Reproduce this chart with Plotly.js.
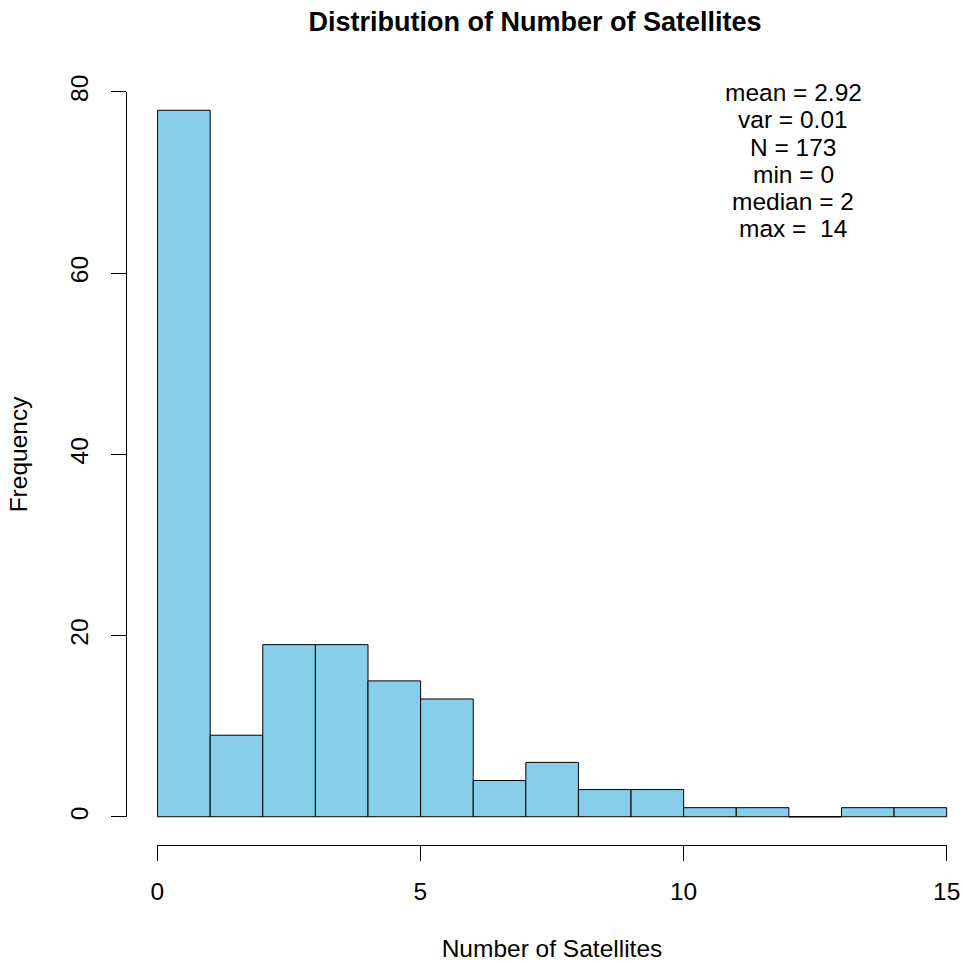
<!DOCTYPE html>
<html>
<head>
<meta charset="utf-8">
<script src="https://cdn.plot.ly/plotly-3.0.1.min.js"></script>
<style>html,body{margin:0;padding:0;background:#fff;}</style>
</head>
<body>
<div id="chart" style="width:963px;height:962px;"></div>
<script>
// ---- data ----
const breaks = [0,1,2,3,4,5,6,7,8,9,10,11,12,13,14,15];
const counts = [78,9,19,19,15,13,4,6,3,3,1,1,0,1,1];
const xTicks = [0,5,10,15];
const yTicks = [0,20,40,60,80];
const statLines = ["mean = 2.92","var = 0.01","N = 173","min = 0","median = 2","max =  14"];
const chartTitle = "Distribution of Number of Satellites";
const xTitle = "Number of Satellites";
const yTitle = "Frequency";

const FONT = "Liberation Sans, Arial, Helvetica, sans-serif";
const FS = 24.5;

const mids = counts.map((c, i) => (breaks[i] + breaks[i + 1]) / 2);
const widths = counts.map((c, i) => breaks[i + 1] - breaks[i]);

// flat outline for empty bins (R draws a zero-height rectangle)
const zx = [], zy = [];
counts.forEach((c, i) => {
  if (c === 0) { zx.push(breaks[i], breaks[i + 1], null); zy.push(0, 0, null); }
});

const traces = [
  {
    type: 'bar', x: mids, y: counts, width: widths,
    marker: {color: '#87CEEB', line: {color: '#000000', width: 1}},
    hoverinfo: 'x+y', showlegend: false
  },
  {
    type: 'scatter', mode: 'lines', x: zx, y: zy,
    line: {color: '#000000', width: 1}, hoverinfo: 'skip', showlegend: false
  },
  {
    type: 'scatter', mode: 'markers', x: [], y: [], xaxis: 'x2', yaxis: 'y2',
    hoverinfo: 'skip', showlegend: false
  }
];

const hidden = {showline: false, showticklabels: false, ticks: '', showgrid: false, zeroline: false, fixedrange: true};

const annotations = statLines.map((t, i) => ({
  text: t,
  xref: 'paper', yref: 'paper',
  x: (793 - 126) / 837, y: (845 - (92.5 + 27.3 * i)) / 763,
  xanchor: 'center', yanchor: 'middle', align: 'center',
  showarrow: false,
  font: {family: FONT, size: FS, color: '#000000'}
}));

const layout = {
  width: 963, height: 962,
  margin: {l: 126, r: 0, t: 82, b: 117},
  paper_bgcolor: '#ffffff', plot_bgcolor: 'rgba(0,0,0,0)',
  font: {family: FONT, color: '#000000', size: FS},
  showlegend: false,
  bargap: 0,
  title: {
    text: '<b>' + chartTitle + '</b>',
    font: {family: FONT, size: 27, color: '#000000'},
    x: 535 / 963, xanchor: 'center', xref: 'container',
    y: 1 - 22 / 962, yanchor: 'middle', yref: 'container'
  },
  xaxis: Object.assign({range: [-0.6, 15.31]}, hidden),
  yaxis: Object.assign({range: [-3.12, 81.12]}, hidden),
  xaxis2: {
    domain: [0.0374, 0.9805], range: [0, 15], anchor: 'free', position: 0,
    showline: true, linecolor: '#000000', linewidth: 1,
    ticks: 'outside', ticklen: 15, tickwidth: 1, tickcolor: '#000000',
    tickmode: 'array', tickvals: xTicks, ticktext: xTicks.map(String),
    showgrid: false, zeroline: false, fixedrange: true,
    tickfont: {family: FONT, size: FS, color: '#000000'},
    ticklabelstandoff: 10,
    title: {text: xTitle, font: {family: FONT, size: FS, color: '#000000'}, standoff: 35}
  },
  yaxis2: {
    domain: [0.0367, 0.9869], range: [0, 80], anchor: 'free', position: 0,
    showline: true, linecolor: '#000000', linewidth: 1,
    ticks: 'outside', ticklen: 15, tickwidth: 1, tickcolor: '#000000',
    tickmode: 'array', tickvals: yTicks, ticktext: yTicks.map(String),
    tickangle: -90,
    showgrid: false, zeroline: false, fixedrange: true,
    tickfont: {family: FONT, size: FS, color: '#000000'},
    ticklabelstandoff: 13,
    title: {text: yTitle, font: {family: FONT, size: FS, color: '#000000'}, standoff: 30}
  },
  annotations: annotations
};

Plotly.newPlot('chart', traces, layout, {displayModeBar: false, staticPlot: true});
</script>
</body>
</html>
